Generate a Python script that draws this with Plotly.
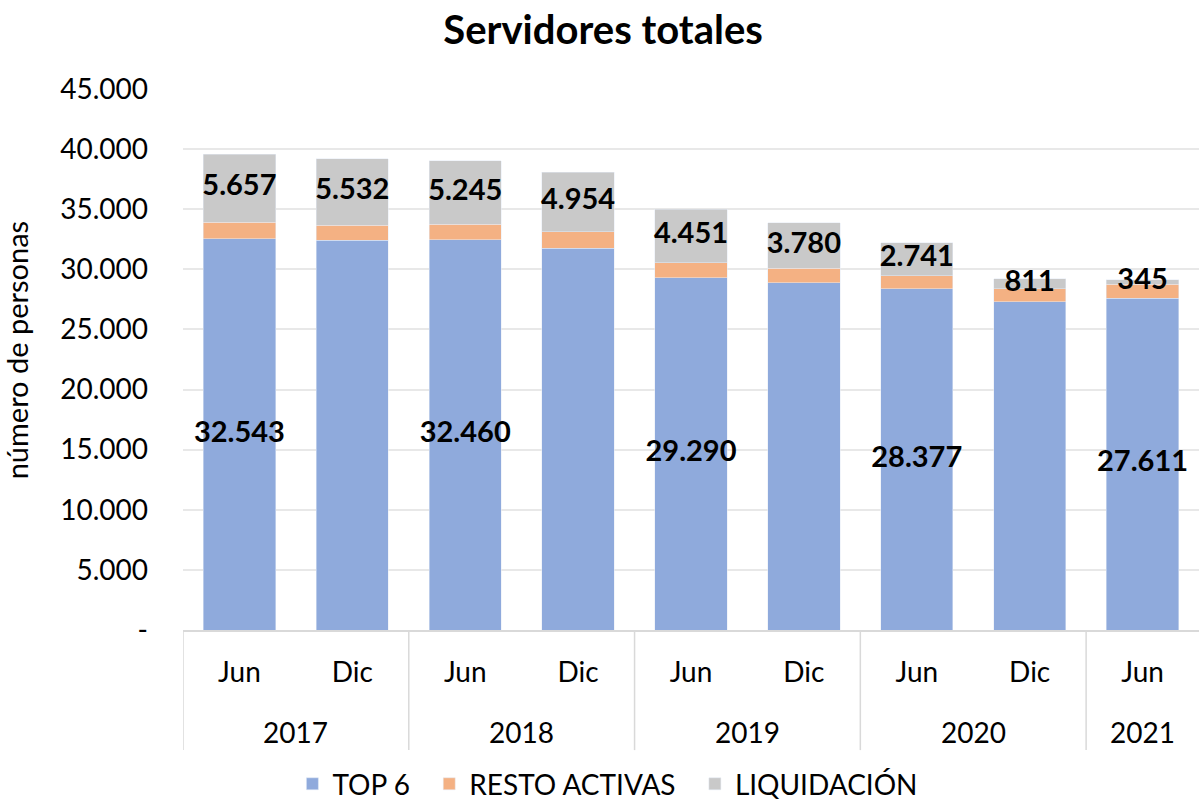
import plotly.graph_objs as go

years = ["2017", "2017", "2018", "2018", "2019", "2019", "2020", "2020", "2021"]
months = ["Jun", "Dic", "Jun", "Dic", "Jun", "Dic", "Jun", "Dic", "Jun"]
top6 = [32543, 32400, 32460, 31750, 29290, 28880, 28377, 27300, 27611]
resto = [1380, 1270, 1310, 1380, 1260, 1200, 1100, 1090, 1160]
liquidacion = [5657, 5532, 5245, 4954, 4451, 3780, 2741, 811, 345]
top6_labels = ["32.543", "", "32.460", "", "29.290", "", "28.377", "", "27.611"]
liq_labels = ["5.657", "5.532", "5.245", "4.954", "4.451", "3.780", "2.741", "811", "345"]
yticks = [0, 5000, 10000, 15000, 20000, 25000, 30000, 35000, 40000, 45000]
yticktext = ["-", "5.000", "10.000", "15.000", "20.000", "25.000", "30.000", "35.000", "40.000", "45.000"]

font = "Lato"
cats = [m + " " + y for m, y in zip(months, years)]
pad = "\u00a0\u00a0"  # extra room after each legend entry

fig = go.Figure()
fig.add_trace(go.Bar(x=cats, y=top6, name="TOP 6" + pad, marker_color="#8FAADC"))
fig.add_trace(go.Bar(x=cats, y=resto, name="RESTO ACTIVAS" + pad, marker_color="#F4B183"))
fig.add_trace(go.Bar(x=cats, y=liquidacion, name="LIQUIDACIÓN", marker_color="#C9C9C9"))

# labels centred on their segment
lbl_font = dict(size=29, color="black", family=font, weight="bold")
fig.add_trace(go.Scatter(
    x=cats, y=[t / 2 for t in top6], text=top6_labels, mode="text",
    textfont=lbl_font, showlegend=False, hoverinfo="skip", cliponaxis=False,
))
fig.add_trace(go.Scatter(
    x=cats, y=[t + r + l / 2 for t, r, l in zip(top6, resto, liquidacion)],
    text=liq_labels, mode="text",
    textfont=lbl_font, showlegend=False, hoverinfo="skip", cliponaxis=False,
))

# second level of the category axis: years + dividers
groups = []
for i, y in enumerate(years):
    if groups and groups[-1][0] == y:
        groups[-1][2] = i
    else:
        groups.append([y, i, i])

for y, a, b in groups:
    fig.add_annotation(x=(a + b) / 2, y=-0.1885, xref="x", yref="paper", text=y,
                       showarrow=False, yanchor="middle", font=dict(size=28))
    fig.add_shape(type="line", xref="x", yref="paper", x0=a - 0.5, x1=a - 0.5,
                  y0=0, y1=-0.222, line=dict(color="#D9D9D9", width=1.5))

fig.add_annotation(x=-0.163, y=0.5176, xref="paper", yref="paper", text="número de personas",
                   textangle=-90, showarrow=False, xanchor="center", yanchor="middle",
                   font=dict(size=29))

fig.update_layout(
    barmode="stack",
    bargap=0.36,
    width=1199, height=805,
    margin=dict(l=183, r=0, t=89, b=175),
    plot_bgcolor="white", paper_bgcolor="white",
    font=dict(family=font, size=28, color="black"),
    title=dict(text="<b>Servidores totales</b>", x=0.503, xref="container",
               y=1 - 30 / 805, yanchor="middle", font=dict(size=40)),
    legend=dict(orientation="h", xref="container", x=0.507, xanchor="center",
                yref="container", y=0.026, yanchor="middle", font=dict(size=28),
                itemwidth=30, traceorder="normal"),
    xaxis=dict(type="category", showline=True, linecolor="#D9D9D9", linewidth=1.5,
               tickvals=cats, ticktext=months, ticklabelstandoff=17,
               showgrid=False, automargin=False, range=[-0.5, len(cats) - 0.5]),
    yaxis=dict(range=[0, 45000], tickvals=yticks, ticktext=yticktext,
               showgrid=True, gridcolor="#E8E8E8", gridwidth=1.5, zeroline=False,
               ticklabelstandoff=34, automargin=False),
)

fig.write_html("out.html", config={"displayModeBar": False},
               post_script="document.body.style.margin = '0';")
